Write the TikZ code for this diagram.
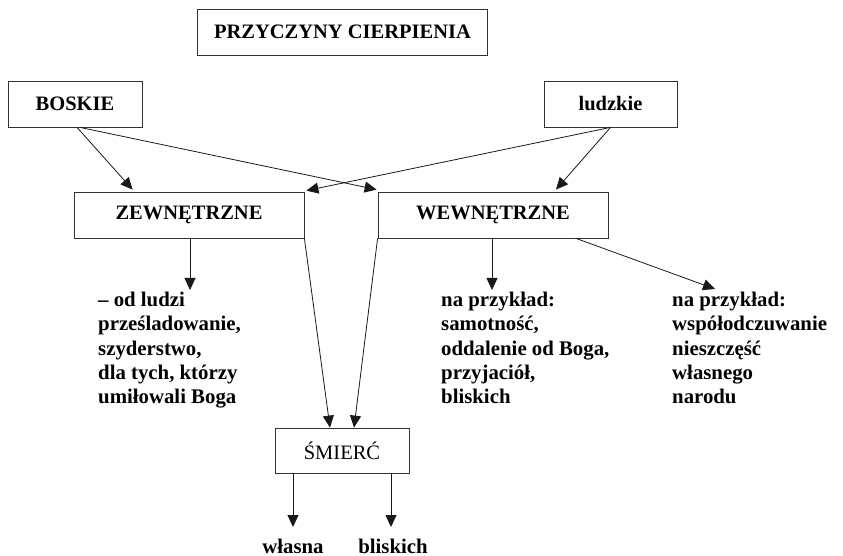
\documentclass[tikz,border=0pt]{standalone}
\usepackage{fontspec}
\setmainfont{Liberation Serif}
\usetikzlibrary{arrows.meta,calc}
\begin{document}
\begin{tikzpicture}[x=1bp,y=-1bp,
  box/.style={draw=black!80, line width=0.8bp, fill=white, inner sep=0, minimum height=46bp,
    font=\fontsize{20.5bp}{22bp}\selectfont\bfseries},
  edge/.style={draw=black!80, line width=1.5bp},
  txt/.style={align=left, inner sep=0, anchor=north west, font=\fontsize{20.8bp}{24.3bp}\selectfont\bfseries},
  arr/.style={draw=black!90, line width=0.8bp, -{Triangle[length=12bp,width=11bp]}}]
\useasboundingbox (0,0) rectangle (843,556);
\node[box, minimum width=290bp] (title) at (342.5,32) {PRZYCZYNY CIERPIENIA};
\node[box, minimum width=134bp] (boskie) at (75,104) {BOSKIE};
\node[box, minimum width=133bp] (ludzkie) at (610.5,104) {ludzkie};
\node[box, minimum width=230bp] (zewn) at (189,215) {ZEWNĘTRZNE};
\node[box, minimum width=230bp] (wewn) at (493,215) {WEWNĘTRZNE};
\node[box, minimum width=134bp, minimum height=45bp, font=\fontsize{20.5bp}{22bp}\selectfont] (smierc) at (342,450.5) {ŚMIERĆ};
\foreach \n in {title,boskie,ludzkie,zewn,wewn,smierc}
  \draw[edge] (\n.south west) -- (\n.south east);

\node[txt] (ztext) at (98,292) {– od ludzi\\prześladowanie,\\szyderstwo,\\dla tych, którzy\\umiłowali Boga};
\node[txt] (wtext) at (441,292) {na przykład:\\samotność,\\oddalenie od Boga,\\przyjaciół,\\bliskich};
\node[txt] (ntext) at (672,292) {na przykład:\\współodczuwanie\\nieszczęść\\własnego\\narodu};
\node[txt, anchor=base] (wlasna) at (293,553) {własna};
\node[txt, anchor=base] (bliskich) at (393,553) {bliskich};

\coordinate (zend) at (190,290);
\coordinate (wend) at (492,290);
\coordinate (nend) at (715,289);
\coordinate (send1) at (293,527);
\coordinate (send2) at (391,527);

\draw[arr] ($(boskie.south)+(2,0)$) -- ($(zewn.north west)+(59,-2)$);
\draw[arr] ($(boskie.south)+(5,0)$) -- ($(wewn.north west)+(-1,-2)$);
\draw[arr] (ludzkie.south) -- ($(zewn.north east)+(2,-1)$);
\draw[arr] (ludzkie.south) -- ($(wewn.north)+(63,-2)$);
\draw[arr] ($(zewn.south)+(1,0)$) -- (zend);
\draw[arr] ($(wewn.south)+(-1,0)$) -- (wend);
\draw[arr] ($(wewn.south)+(83,0)$) -- (nend);
\draw[arr] (zewn.south east) -- ($(smierc.north)+(-12,0)$);
\draw[arr] (wewn.south west) -- ($(smierc.north)+(12,0)$);
\draw[arr] ($(smierc.south)+(-49,0)$) -- (send1);
\draw[arr] ($(smierc.south)+(49,0)$) -- (send2);
\end{tikzpicture}
\end{document}
